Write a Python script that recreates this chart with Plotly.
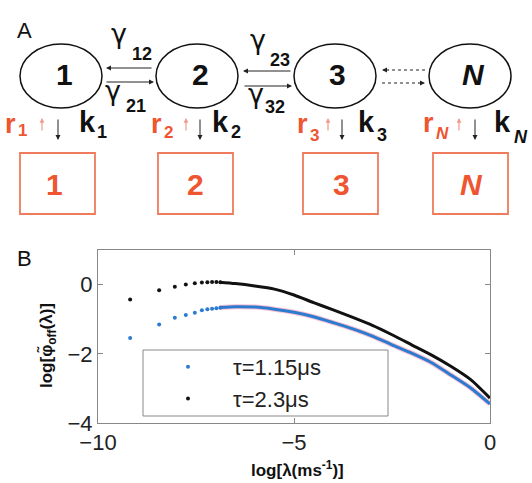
import plotly.graph_objects as go

W, H = 532, 483
FONT = "Liberation Sans, Arial, sans-serif"

# ---------------- data (panel B) ----------------
x_sparse = [-9.18, -8.44, -8.04, -7.76, -7.53, -7.35, -7.21, -7.09, -6.98, -6.88]
y_sparse_tau23 = [-0.43, -0.16, -0.06, 0.0, 0.04, 0.06, 0.07, 0.075, 0.075, 0.07]
y_sparse_tau115 = [-1.54, -1.15, -0.96, -0.88, -0.81, -0.74, -0.71, -0.70, -0.68, -0.67]

x_dense = [-6.9, -6.5, -6.0, -5.5, -5.0, -4.5, -4.0, -3.5, -3.0, -2.5, -2.0, -1.5, -1.0, -0.5, 0.0]
y_dense_tau23 = [0.07, 0.03, -0.04, -0.13, -0.30, -0.52, -0.73, -0.95, -1.18, -1.45, -1.74, -2.03, -2.36, -2.74, -3.28]
y_dense_tau115 = [-0.66, -0.64, -0.65, -0.71, -0.80, -0.93, -1.10, -1.28, -1.49, -1.74, -1.98, -2.25, -2.61, -2.98, -3.45]

series_names = ["τ=1.15μs", "τ=2.3μs"]
x_ticks = [-10, -5, 0]
y_ticks = [-4, -2, 0]

# ---------------- labels (panel A) ----------------
state_labels = ["1", "2", "3", "N"]
gamma_subs = ["12", "21", "23", "32"]
rate_subs = ["1", "2", "3", "N"]

BLUE = "#2b7bd0"
BLACK = "#111111"
RED = "#ee5530"
RED_LINE = "#f07a5c"
RED_ARROW = "#f29a88"

fig = go.Figure()

# pink halo under the blue series
fig.add_trace(go.Scatter(x=x_dense, y=y_dense_tau115, mode="lines", showlegend=False,
                         line=dict(color="rgba(245,140,170,0.55)", width=5, shape="spline", smoothing=0.6),
                         hoverinfo="skip"))
fig.add_trace(go.Scatter(x=x_dense, y=y_dense_tau115, mode="lines", showlegend=False,
                         line=dict(color=BLUE, width=3, shape="spline", smoothing=0.6)))
fig.add_trace(go.Scatter(x=x_sparse, y=y_sparse_tau115, mode="markers", name=series_names[0],
                         marker=dict(color=BLUE, size=4)))
fig.add_trace(go.Scatter(x=x_dense, y=y_dense_tau23, mode="lines", showlegend=False,
                         line=dict(color=BLACK, width=3, shape="spline", smoothing=0.6)))
fig.add_trace(go.Scatter(x=x_sparse, y=y_sparse_tau23, mode="markers", name=series_names[1],
                         marker=dict(color=BLACK, size=4)))


def px(x):
    return x / W


def py(y):
    return 1 - y / H


annotations = []
shapes = []


def txt(s, x, y, size, color="#111", bold=False, italic=False, angle=0, family=FONT):
    t = s
    if bold:
        t = f"<b>{t}</b>"
    if italic:
        t = f"<i>{t}</i>"
    annotations.append(dict(text=t, x=px(x), y=py(y), xref="paper", yref="paper",
                            showarrow=False, xanchor="center", yanchor="middle", textangle=angle,
                            font=dict(family=family, size=size, color=color)))


def arrow(xt, yt, xh, yh, color="#222", width=1, size=1.0, head=2):
    annotations.append(dict(text="", x=px(xh), y=py(yh), xref="paper", yref="paper",
                            ax=xt - xh, ay=yt - yh, showarrow=True, arrowhead=head,
                            arrowsize=size, arrowwidth=width, arrowcolor=color,
                            standoff=0, startstandoff=0))


def line(x0, y0, x1, y1, color="#222", width=1, dash="solid"):
    shapes.append(dict(type="line", xref="paper", yref="paper", x0=px(x0), y0=py(y0),
                       x1=px(x1), y1=py(y1), line=dict(color=color, width=width, dash=dash)))


# ---------------- panel A layout ----------------
txt("A", 24, 30, 22)
txt("B", 24, 258, 22)

ell_cx = [61, 197, 335, 470]
ell_cy, rx, ry = 76, 41, 32
state_tx = [64, 200, 337, 473]
for i, lab in enumerate(state_labels):
    shapes.append(dict(type="circle", xref="paper", yref="paper",
                       x0=px(ell_cx[i] - rx), x1=px(ell_cx[i] + rx),
                       y0=py(ell_cy + ry), y1=py(ell_cy - ry),
                       line=dict(color="#111", width=1.5)))
    txt(lab, state_tx[i], 75, 30, bold=True, italic=(lab == "N"))

# gamma labels
gamma_pos = [(119, 33), (113, 91), (258, 39), (256, 93)]
gsub_pos = [(142, 54), (136, 106), (280, 60), (275, 107)]
for (gx, gy), (sx, sy), s in zip(gamma_pos, gsub_pos, gamma_subs):
    txt("γ", gx, gy, 27, family="DejaVu Sans, sans-serif")
    txt(s, sx, sy, 18, bold=True)

# solid arrows between states 1-2 and 2-3
arrow(153, 68, 106, 68)
arrow(105, 82, 154, 82)
arrow(292, 71, 243, 71)
arrow(243, 86, 292, 86)
# dotted arrows between 3 and N
line(425, 70, 388, 70, dash="dot")
arrow(390, 70, 382, 70)
line(382, 83, 419, 83, dash="dot")
arrow(417, 83, 425, 83)

# rates below states
r_pos = [(10, 124), (156, 124), (302, 124), (428, 123)]
r_sub_pos = [(22, 130), (168, 132), (314, 135), (442, 133)]
up_x = [42, 186, 328, 459]
down_x = [58, 200, 342, 475]
k_pos = [(87, 122), (220, 122), (366, 122), (502, 122)]
k_sub_pos = [(102, 132), (236, 132), (382, 135), (521, 137)]
for i, s in enumerate(rate_subs):
    italic = s == "N"
    txt("r", r_pos[i][0], r_pos[i][1], 27, color=RED, bold=True)
    txt(s, r_sub_pos[i][0], r_sub_pos[i][1], 17, color=RED, bold=True, italic=italic)
    arrow(up_x[i], 132, up_x[i], 118, color=RED_ARROW, width=1.2, size=0.8)
    arrow(down_x[i], 118, down_x[i], 140, color="#222", width=1, size=1.0)
    txt("k", k_pos[i][0], k_pos[i][1], 29, bold=True)
    txt(s, k_sub_pos[i][0], k_sub_pos[i][1], 18, bold=True, italic=italic)

# red boxes
box_x0 = [20, 158, 303, 433]
box_tx = [54, 195, 341, 471]
for i, lab in enumerate(state_labels):
    shapes.append(dict(type="rect", xref="paper", yref="paper",
                       x0=px(box_x0[i]), x1=px(box_x0[i] + 75), y0=py(214), y1=py(153),
                       line=dict(color=RED_LINE, width=1.8)))
    txt(lab, box_tx[i], 184, 30, color=RED, bold=True, italic=(lab == "N"))

# ---------------- panel B decorations ----------------
txt("log[φ̃<sub>off</sub>(λ)]", 47, 346, 17, bold=True, angle=-90)
txt("log[λ(ms<sup>-1</sup>)]", 297, 469, 17, bold=True)
# legend frame
shapes.append(dict(type="rect", xref="paper", yref="paper", x0=px(143), x1=px(388),
                   y0=py(416), y1=py(350), line=dict(color="#888", width=1)))

axis_common = dict(showline=True, linecolor="#888", linewidth=1, mirror="ticks",
                   ticks="inside", ticklen=5, tickcolor="#888", showgrid=False, zeroline=False,
                   automargin=False,
                   tickfont=dict(family=FONT, size=22, color="#222"))

fig.update_layout(
    width=W, height=H,
    margin=dict(l=0, r=0, t=0, b=0, pad=0, autoexpand=False),
    paper_bgcolor="white", plot_bgcolor="white",
    xaxis=dict(domain=[98 / W, 490 / W], range=[-10, 0], tickvals=x_ticks, **axis_common),
    yaxis=dict(domain=[(H - 423) / H, (H - 250) / H], range=[-4, 1], tickvals=y_ticks, **axis_common),
    legend=dict(x=px(143), y=py(346), xanchor="left", yanchor="top", itemwidth=80,
                bgcolor="rgba(0,0,0,0)", borderwidth=0, tracegroupgap=0,
                font=dict(family=FONT, size=22, color="#222")),
    annotations=annotations,
    shapes=shapes,
    showlegend=True,
)

fig.write_html("out.html", config={"displayModeBar": False},
               post_script="document.body.style.margin='0';document.body.style.overflow='hidden';")
